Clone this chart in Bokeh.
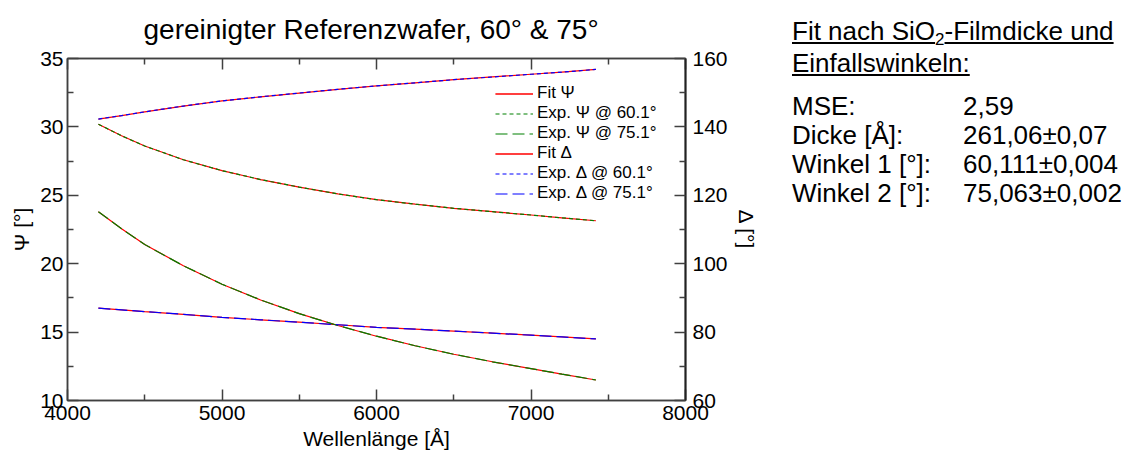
from bokeh.plotting import figure
from bokeh.models import Range1d, LinearAxis, FixedTicker, Legend, LegendItem, Div
from bokeh.layouts import row
from bokeh.embed import file_html
from bokeh.resources import INLINE

# ---- data ----
wavelength = [4200, 4350, 4500, 4750, 5000, 5250, 5500, 5750, 6000, 6250, 6500, 6750, 7000, 7200, 7420]
psi_60 = [30.2, 29.35, 28.6, 27.6, 26.8, 26.15, 25.6, 25.1, 24.68, 24.35, 24.05, 23.8, 23.56, 23.35, 23.14]
psi_75 = [23.8, 22.55, 21.4, 19.85, 18.5, 17.35, 16.35, 15.48, 14.7, 14.0, 13.38, 12.83, 12.33, 11.93, 11.5]
delta_60 = [142.3, 143.3, 144.4, 146.1, 147.6, 148.8, 149.9, 151.0, 152.0, 152.9, 153.8, 154.6, 155.4, 156.0, 156.8]
delta_75 = [87.0, 86.5, 86.0, 85.2, 84.3, 83.6, 82.9, 82.15, 81.4, 80.85, 80.3, 79.7, 79.1, 78.6, 78.0]

x_major = [4000, 5000, 6000, 7000, 8000]
x_minor = [4500, 5500, 6500, 7500]
psi_major = [10, 15, 20, 25, 30, 35]
psi_minor = [12.5, 17.5, 22.5, 27.5, 32.5]
delta_major = [60, 80, 100, 120, 140, 160]
delta_minor = [70, 90, 110, 130, 150]

title_text = "gereinigter Referenzwafer, 60° & 75°"
x_label = "Wellenlänge [Å]"
psi_label = "Ψ [°]"
delta_label = "Δ [°]"
legend_labels = ["Fit Ψ", "Exp. Ψ @ 60.1°", "Exp. Ψ @ 75.1°", "Fit Δ", "Exp. Δ @ 60.1°", "Exp. Δ @ 75.1°"]

panel_header = ["Fit nach SiO", "2", "-Filmdicke und", "Einfallswinkeln:"]
panel_keys = ["MSE:", "Dicke [Å]:", "Winkel 1 [°]:", "Winkel 2 [°]:"]
panel_values = ["2,59", "261,06±0,07", "60,111±0,004", "75,063±0,002"]

FONT = "Liberation Sans"
AXC = "#404040"

p = figure(width=770, height=459, x_range=Range1d(4000, 8000), y_range=Range1d(10, 35),
           output_backend="svg", toolbar_location=None,
           min_border_left=67, min_border_right=85, min_border_top=58, min_border_bottom=59,
           title=title_text)
p.extra_y_ranges = {"delta": Range1d(60, 160)}
p.grid.visible = False
p.outline_line_color = AXC
p.outline_line_width = 1.5
p.background_fill_color = "white"
p.border_fill_color = "white"

p.title.text_font = FONT
p.title.text_font_size = "28px"
p.title.text_font_style = "normal"
p.title.align = "left"
p.title.offset = 76
p.title.vertical_align = "top"
p.title.text_color = "black"
p.title.standoff = 23


def style_axis(ax):
    ax.axis_line_color = AXC
    ax.axis_line_width = 1.5
    ax.major_tick_line_color = AXC
    ax.minor_tick_line_color = AXC
    ax.major_tick_line_width = 1.5
    ax.minor_tick_line_width = 1.5
    ax.major_tick_in = 11
    ax.major_tick_out = 0
    ax.minor_tick_in = 6
    ax.minor_tick_out = 0
    ax.major_label_text_font = FONT
    ax.major_label_text_color = "black"
    ax.major_label_text_font_size = "21px"
    ax.axis_label_text_font = FONT
    ax.axis_label_text_font_style = "normal"
    ax.axis_label_text_color = "black"
    ax.axis_label_text_font_size = "21px"


# bottom axis
xa = p.xaxis[0]
xa.ticker = FixedTicker(ticks=x_major, minor_ticks=x_minor)
xa.axis_label = x_label
style_axis(xa)
xa.major_label_standoff = 5
xa.axis_label_standoff = 4

# left axis
ya = p.yaxis[0]
ya.ticker = FixedTicker(ticks=psi_major, minor_ticks=psi_minor)
ya.axis_label = psi_label
style_axis(ya)
ya.major_label_standoff = 4
ya.axis_label_standoff = 4

# top axis (ticks only, empty labels)
top = LinearAxis(ticker=FixedTicker(ticks=x_major, minor_ticks=x_minor))
style_axis(top)
top.major_label_overrides = {t: "" for t in x_major}
top.major_label_standoff = 0
p.add_layout(top, "above")

# right axis for Delta
ra = LinearAxis(y_range_name="delta", ticker=FixedTicker(ticks=delta_major, minor_ticks=delta_minor),
                axis_label=delta_label)
style_axis(ra)
ra.axis_line_color = "#222222"
ra.axis_line_width = 2
ra.major_label_standoff = 7
ra.axis_label_standoff = 4
p.add_layout(ra, "right")

RED = "#ff0000"
GREEN = "#008000"
BLUE = "#0000ff"

# fits (solid red) underneath
fp1 = p.line(wavelength, psi_60, line_color=RED, line_width=1.2)
fp2 = p.line(wavelength, psi_75, line_color=RED, line_width=1.2)
fd1 = p.line(wavelength, delta_60, line_color=RED, line_width=1.2, y_range_name="delta")
fd2 = p.line(wavelength, delta_75, line_color=RED, line_width=1.2, y_range_name="delta")

# experimental (dashed) on top
ep60 = p.line(wavelength, psi_60, line_color=GREEN, line_width=1.2, line_dash="4 3")
ep75 = p.line(wavelength, psi_75, line_color=GREEN, line_width=1.2, line_dash="12 5")
ed60 = p.line(wavelength, delta_60, line_color=BLUE, line_width=1.2, line_dash="4 3", y_range_name="delta")
ed75 = p.line(wavelength, delta_75, line_color=BLUE, line_width=1.2, line_dash="12 5", y_range_name="delta")

legend = Legend(items=[
    LegendItem(label=legend_labels[0], renderers=[fp1, fp2]),
    LegendItem(label=legend_labels[1], renderers=[ep60]),
    LegendItem(label=legend_labels[2], renderers=[ep75]),
    LegendItem(label=legend_labels[3], renderers=[fd1, fd2]),
    LegendItem(label=legend_labels[4], renderers=[ed60]),
    LegendItem(label=legend_labels[5], renderers=[ed75]),
], location=(428, 197))
legend.background_fill_alpha = 0
legend.border_line_alpha = 0
legend.padding = 0
legend.margin = 0
legend.spacing = 0
legend.glyph_width = 38
legend.glyph_height = 17
legend.label_height = 17
legend.label_standoff = 4
legend.label_text_font = FONT
legend.label_text_font_size = "17px"
legend.label_text_color = "black"
p.add_layout(legend)

rows_html = "".join(
    f'<tr><td style="padding:0;width:171px;white-space:nowrap">{k}</td>'
    f'<td style="padding:0;white-space:nowrap">{v}</td></tr>'
    for k, v in zip(panel_keys, panel_values)
)
html = (
    f'<div style="font-family:\'{FONT}\',Arial,sans-serif;font-size:26px;line-height:30px;color:#000;'
    f'padding-top:11px;padding-left:17px;white-space:nowrap">'
    f'<div><u>{panel_header[0]}<sub style="font-size:17px;line-height:1;vertical-align:-5px">{panel_header[1]}</sub>{panel_header[2]}</u></div>'
    f'<div><u>{panel_header[3]}</u></div>'
    f'<table style="border-collapse:collapse;margin-top:14px;font-size:26px;line-height:29px">{rows_html}</table>'
    f'</div>'
)
div = Div(text=html, width=356, height=459)

layout = row(p, div)
open("out.html", "w").write(file_html(layout, INLINE))
